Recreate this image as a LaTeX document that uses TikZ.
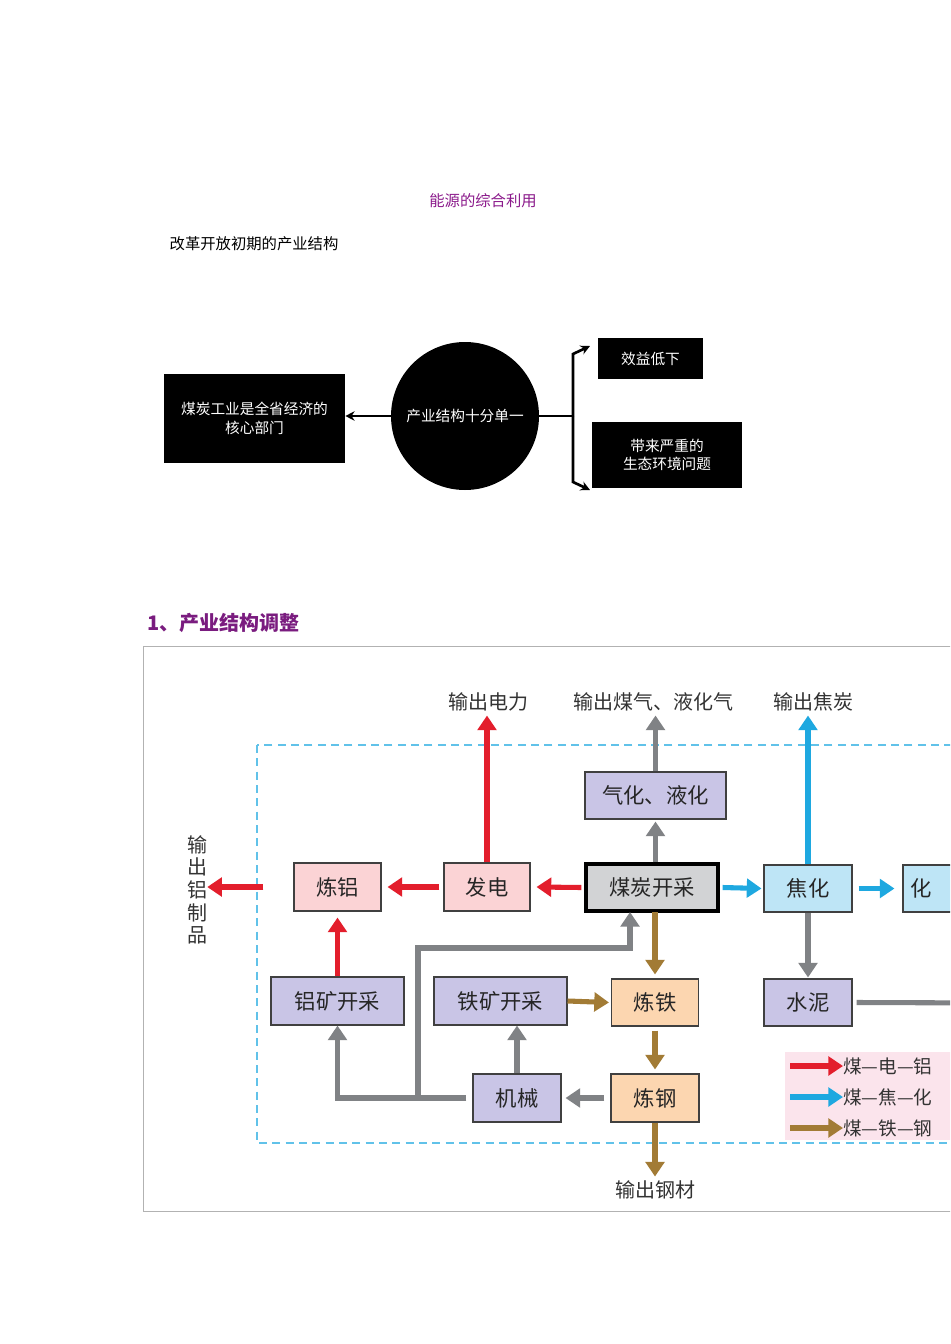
\documentclass[tikz,border=0pt]{standalone}
\usepackage{fontspec}
\setmainfont{Noto Sans CJK SC}
\usetikzlibrary{arrows.meta,calc}
\definecolor{tpurple}{HTML}{8B1A8B}
\definecolor{hpurple}{HTML}{7A1C7F}
\definecolor{ared}{HTML}{E31E2C}
\definecolor{ablue}{HTML}{1EA8E0}
\definecolor{agray}{HTML}{808285}
\definecolor{abrown}{HTML}{A27B35}
\definecolor{cpink}{HTML}{FBD3D5}
\definecolor{clav}{HTML}{C9C5E6}
\definecolor{cblue}{HTML}{BEE5F6}
\definecolor{cpeach}{HTML}{FCD6B0}
\definecolor{cgray}{HTML}{D2D3D5}
\definecolor{lpink}{HTML}{FBE4EC}
\begin{document}
\begin{tikzpicture}[x=0.75pt,y=-0.75pt,
  bb/.style={fill=black,text=white,inner sep=0pt,font=\fontsize{11}{14}\selectfont,align=center},
  fb/.style={draw=black!75,line width=0.8pt,inner sep=0pt,font=\fontsize{16}{18}\selectfont,text=black!85},
  ar/.style={line width=3.8pt,-{Triangle[width=14pt,length=11pt]}},
  ln/.style={line width=3.8pt},
  lbl/.style={font=\fontsize{15}{18}\selectfont,text=black!80,inner sep=0pt}]
\clip (0,0) rectangle (950,1344);
\fill[white] (0,0) rectangle (950,1344);
% top part
\node[text=tpurple,font=\fontsize{11.5}{14}\selectfont] (title) at (483,201) {能源的综合利用};
\node[anchor=west,font=\fontsize{11.5}{14}\selectfont] (sub) at (165,244) {改革开放初期的产业结构};
\node[bb,minimum width=181*0.75pt,minimum height=89*0.75pt] (core) at (254.5,418.5) {煤炭工业是全省经济的\\核心部门};
\node[bb,circle,minimum size=148*0.75pt] (circ) at (465,416) {产业结构十分单一};
\node[bb,minimum width=105*0.75pt,minimum height=41*0.75pt] (xy) at (650.5,358.5) {效益低下};
\node[bb,minimum width=150*0.75pt,minimum height=66*0.75pt] (st) at (667,455) {带来严重的\\生态环境问题};
\draw[line width=2pt,-{Stealth[length=7pt,width=7pt]}] (circ.west) -- (core.east |- circ.west);
\coordinate (bm) at (573,416);
\coordinate (bt) at (590,346);
\coordinate (bo) at (590,490);
\draw[line width=2pt] (circ.east) -- (bm);
\draw[line width=2pt,-{Stealth[length=7pt,width=7pt]}] (bm) -- (573,354) -- (bt);
\draw[line width=2pt,-{Stealth[length=7pt,width=7pt]}] (bm) -- (573,482) -- (bo);
% heading
\node[anchor=west,text=hpurple,font=\bfseries\fontsize{15}{18}\selectfont] (head) at (143,623) {1、产业结构调整};
% frame
\draw[black!30,line width=0.6pt] (143,646) rectangle (1000,1211);
\draw[ablue!70,line width=0.8pt,dash pattern=on 6pt off 4pt] (257,745) rectangle (1000,1143);
% labels
\node[lbl] (oe) at (488,702) {输出电力};
\node[lbl] (og) at (653,702) {输出煤气、液化气};
\node[lbl] (oc) at (813,702) {输出焦炭};
\node[lbl,align=center,font=\fontsize{15}{17}\selectfont] (oal) at (197,890) {输\\出\\铝\\制\\品};
\node[lbl] (ost) at (655,1190) {输出钢材};
% boxes
\node[fb,fill=cpink,minimum width=87*0.75pt,minimum height=48*0.75pt] (ly) at (337.5,887) {炼铝};
\node[fb,fill=cpink,minimum width=86*0.75pt,minimum height=48*0.75pt] (fd) at (487,887) {发电};
\node[fb,fill=cgray,draw=black,line width=2.4pt,minimum width=132*0.75pt,minimum height=47*0.75pt] (mt) at (652,887.5) {煤炭开采};
\node[fb,fill=clav,minimum width=141*0.75pt,minimum height=47*0.75pt] (qh) at (655.5,795.5) {气化、液化};
\node[fb,fill=cblue,minimum width=88*0.75pt,minimum height=47*0.75pt] (jh) at (808,888.5) {焦化};
\node[fb,fill=cblue,minimum width=88*0.75pt,minimum height=47*0.75pt,text width=80*0.75pt,align=left] (hg) at (947,888.5) {\,化};
\node[fb,fill=clav,minimum width=133*0.75pt,minimum height=48*0.75pt] (lk) at (337.5,1001) {铝矿开采};
\node[fb,fill=clav,minimum width=133*0.75pt,minimum height=48*0.75pt] (tk) at (500.5,1001) {铁矿开采};
\node[fb,fill=cpeach,minimum width=87*0.75pt,minimum height=47*0.75pt] (lt) at (655,1002.5) {炼铁};
\node[fb,fill=clav,minimum width=88*0.75pt,minimum height=47*0.75pt] (sn) at (808,1002.5) {水泥};
\node[fb,fill=clav,minimum width=88*0.75pt,minimum height=48*0.75pt] (jx) at (517,1098) {机械};
\node[fb,fill=cpeach,minimum width=88*0.75pt,minimum height=48*0.75pt] (lg) at (655,1098) {炼钢};
% red
\draw[ared,ar] ($(mt.west)+(-3,0)$) -- ($(fd.east)+(6,0)$);
\draw[ared,ar] ($(fd.west)+(-4,0)$) -- ($(ly.east)+(6,0)$);
\draw[ared,ar] ($(ly.west)+(-30,0)$) -- (oal.east |- ly.west);
\draw[ared,ar] (lk.north) -- ($(ly.south)+(0,6)$);
\draw[ared,ar] (fd.north) -- ($(fd.north |- oe.south)+(0,4)$);
% gray
\draw[agray,ar] (qh.north) -- ($(qh.north |- og.south)+(0,4)$);
\draw[agray,ar] (qh.south |- mt.north) -- ($(qh.south)+(0,2)$);
\draw[agray,ar] (jh.south) -- ($(sn.north)+(0,-1)$);
\draw[agray,ln] ($(sn.east)+(4,0)$) -- (1000,1003);
\draw[agray,ar] ($(lg.west)+(-6,0)$) -- ($(jx.east)+(4,0)$);
\draw[agray,ar] (jx.north) -- (jx.north |- tk.south);
\draw[agray,ar] ($(jx.west)+(-6,0)$) -- (lk.south |- jx.west) -- (lk.south);
\draw[agray,ar] (418,1098) -- (418,948) -- (630,948) -- (630,912);
% blue
\draw[ablue,ar] (jh.north) -- ($(jh.north |- oc.south)+(0,4)$);
\draw[ablue,ar] ($(mt.east)+(3,0)$) -- ($(jh.west)+(-2,0)$);
\draw[ablue,ar] ($(jh.east)+(6,0)$) -- ($(hg.west)+(-8,0)$);
% brown
\draw[abrown,ar] (655,912) -- ($(lt.north)+(0,-4)$);
\draw[abrown,ar] (tk.east) -- ($(lt.west)+(-2,0)$);
\draw[abrown,ar] ($(lt.south)+(0,4)$) -- ($(lg.north)+(0,-4)$);
\draw[abrown,ar] (lg.south) -- ($(ost.north)+(0,-4)$);
% legend
\fill[lpink] (785,1052) rectangle (1000,1140);
\foreach \yy/\cc/\tt/\nn in {1066/ared/煤—电—铝/la,1097/ablue/煤—焦—化/lb,1128/abrown/煤—铁—钢/lc}{
  \node[anchor=west,lbl,font=\fontsize{14}{16}\selectfont] (\nn) at (843,\yy) {\tt};
  \draw[\cc,ar] (790,\yy) -- (\nn.west);
}
\end{tikzpicture}
\end{document}
